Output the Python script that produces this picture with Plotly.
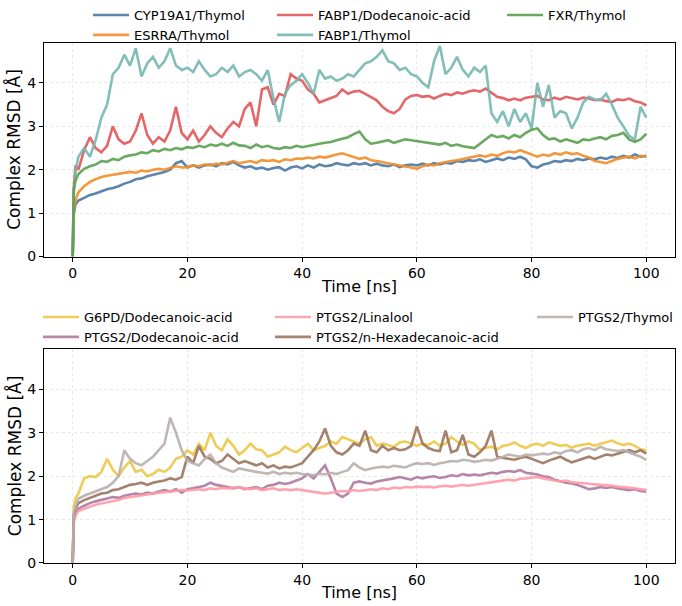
import plotly.graph_objects as go
from plotly.subplots import make_subplots

time_ns = [0, 0.2, 0.5] + list(range(1, 101))

top_names = ["CYP19A1/Thymol", "ESRRA/Thymol", "FABP1/Dodecanoic-acid", "FABP1/Thymol", "FXR/Thymol"]
bottom_names = ["G6PD/Dodecanoic-acid", "PTGS2/Dodecanoic-acid", "PTGS2/Linalool",
                "PTGS2/n-Hexadecanoic-acid", "PTGS2/Thymol"]

cyp19a1_thymol = [0, 1.0, 1.2,
    1.29, 1.35, 1.42, 1.45, 1.5, 1.55, 1.58, 1.62, 1.68, 1.72,
    1.78, 1.8, 1.85, 1.88, 1.92, 1.95, 2.0, 2.15, 2.2, 2.05,
    2.1, 2.05, 2.1, 2.12, 2.08, 2.15, 2.12, 2.18, 2.1, 2.05,
    2.08, 2.02, 2.05, 2.0, 2.04, 2.06, 1.98, 2.05, 2.08, 2.03,
    2.1, 2.05, 2.12, 2.08, 2.1, 2.15, 2.12, 2.1, 2.15, 2.12,
    2.15, 2.1, 2.14, 2.1, 2.08, 2.12, 2.06, 2.1, 2.12, 2.1,
    2.14, 2.1, 2.15, 2.12, 2.16, 2.14, 2.2, 2.18, 2.22, 2.2,
    2.24, 2.18, 2.22, 2.26, 2.22, 2.28, 2.25, 2.3, 2.24, 2.08,
    2.05, 2.12, 2.15, 2.2, 2.18, 2.22, 2.2, 2.25, 2.22, 2.26,
    2.24, 2.28, 2.25, 2.3, 2.27, 2.32, 2.28, 2.35, 2.3, 2.32]

esrra_thymol = [0, 1.05, 1.3,
    1.48, 1.62, 1.72, 1.78, 1.83, 1.86, 1.88, 1.9, 1.92, 1.95,
    1.93, 1.98, 1.96, 2.0, 2.02, 2.0, 2.04, 2.08, 2.05, 2.06,
    2.1, 2.08, 2.12, 2.1, 2.14, 2.12, 2.16, 2.2, 2.15, 2.18,
    2.2, 2.16, 2.22, 2.2, 2.22, 2.18, 2.24, 2.22, 2.26, 2.25,
    2.28, 2.26, 2.3, 2.28, 2.32, 2.35, 2.38, 2.34, 2.3, 2.25,
    2.28, 2.22, 2.2, 2.18, 2.15, 2.12, 2.1, 2.08, 2.05, 2.02,
    2.08, 2.12, 2.1, 2.15, 2.18, 2.2, 2.22, 2.25, 2.28, 2.3,
    2.33, 2.3, 2.35, 2.32, 2.38, 2.42, 2.4, 2.45, 2.4, 2.35,
    2.3, 2.35, 2.32, 2.38, 2.35, 2.4, 2.36, 2.38, 2.32, 2.28,
    2.2, 2.18, 2.15, 2.2, 2.25, 2.28, 2.3, 2.26, 2.32, 2.3]

fabp1_dodecanoic = [0, 1.6, 2.1,
    2.0, 2.45, 2.75, 2.5, 2.4, 2.55, 3.0, 2.7, 2.6, 2.65,
    2.9, 3.3, 2.8, 2.6, 2.75, 2.65, 2.9, 3.45, 2.85, 2.7,
    2.9, 2.65, 2.8, 3.0, 2.85, 2.75, 2.95, 3.1, 3.0, 3.4,
    3.55, 3.0, 3.85, 3.9, 3.5, 3.75, 3.7, 4.2, 4.1, 4.05,
    3.85, 3.75, 3.55, 3.6, 3.65, 3.7, 3.85, 3.75, 3.8, 3.82,
    3.75, 3.68, 3.6, 3.45, 3.35, 3.3, 3.4, 3.62, 3.7, 3.72,
    3.68, 3.7, 3.64, 3.7, 3.75, 3.72, 3.78, 3.75, 3.8, 3.83,
    3.8, 3.87, 3.78, 3.68, 3.65, 3.6, 3.64, 3.6, 3.66, 3.68,
    3.7, 3.62, 3.6, 3.66, 3.62, 3.68, 3.65, 3.62, 3.66, 3.64,
    3.6, 3.62, 3.58, 3.56, 3.62, 3.6, 3.64, 3.58, 3.55, 3.48]

fabp1_thymol = [0, 1.5, 1.98,
    2.3, 2.5, 2.3, 2.68, 3.2, 3.5, 4.2, 4.35, 4.65, 4.4,
    4.8, 4.15, 4.45, 4.6, 4.35, 4.5, 4.8, 4.4, 4.3, 4.35,
    4.25, 4.5, 4.3, 4.15, 4.2, 4.35, 4.25, 4.4, 4.15, 4.25,
    4.3, 4.2, 4.05, 4.3, 3.65, 3.1, 3.75, 3.95, 4.05, 4.2,
    4.0, 3.75, 4.3, 4.1, 4.15, 4.05, 4.1, 4.2, 4.15, 4.3,
    4.45, 4.5, 4.6, 4.75, 4.5, 4.45, 4.3, 4.35, 4.2, 4.15,
    4.0, 3.9, 4.5, 4.85, 4.2, 4.35, 4.6, 4.3, 4.15, 4.35,
    4.25, 4.4, 3.3, 3.1, 3.35, 3.0, 3.4, 3.1, 3.3, 2.95,
    4.0, 3.45, 3.95, 3.2, 3.35, 3.3, 2.95, 3.2, 3.55, 3.68,
    3.62, 3.6, 3.75, 3.5, 3.2, 3.0, 2.78, 2.7, 3.45, 3.2]

fxr_thymol = [0, 1.55, 1.75,
    1.9, 2.02, 2.08, 2.12, 2.2, 2.18, 2.25, 2.22, 2.3, 2.33,
    2.35, 2.4, 2.38, 2.45, 2.42, 2.48, 2.45, 2.5, 2.47, 2.52,
    2.5, 2.55, 2.52, 2.58, 2.55, 2.6, 2.55, 2.62, 2.56, 2.55,
    2.5, 2.58, 2.52, 2.55, 2.5, 2.48, 2.52, 2.5, 2.55, 2.52,
    2.55, 2.58, 2.6, 2.62, 2.64, 2.68, 2.72, 2.75, 2.82, 2.88,
    2.7, 2.6, 2.62, 2.65, 2.68, 2.62, 2.66, 2.7, 2.68, 2.66,
    2.65, 2.62, 2.6, 2.58, 2.62, 2.55, 2.58, 2.54, 2.52, 2.5,
    2.6, 2.7, 2.8, 2.75, 2.78, 2.72, 2.8, 2.75, 2.85, 2.92,
    2.95, 2.8, 2.7, 2.72, 2.65, 2.7, 2.66, 2.62, 2.7, 2.68,
    2.72, 2.75, 2.7, 2.78, 2.8, 2.85, 2.7, 2.64, 2.7, 2.83]

g6pd_dodecanoic = [0, 1.3, 1.5,
    1.6, 1.95, 2.0, 1.98, 2.1, 2.4, 2.15, 2.0, 2.2, 2.35,
    2.1, 2.15, 2.0, 2.05, 2.15, 2.1, 2.2, 2.4, 2.45, 2.6,
    2.5, 2.75, 2.6, 3.0, 2.7, 2.6, 2.85, 2.7, 2.5, 2.6,
    2.75, 2.62, 2.6, 2.45, 2.5, 2.55, 2.68, 2.6, 2.55, 2.65,
    2.75, 2.6, 2.65, 2.7, 2.8, 2.75, 2.9, 2.85, 2.8, 2.75,
    2.85, 2.9, 2.7, 2.75, 2.72, 2.68, 2.78, 2.8, 2.75, 2.7,
    2.75, 2.72, 2.8, 2.7, 2.75, 2.9, 2.8, 2.72, 2.8, 2.75,
    2.6, 2.65, 2.68, 2.62, 2.7, 2.72, 2.78, 2.7, 2.65, 2.72,
    2.75, 2.7, 2.78, 2.74, 2.7, 2.72, 2.66, 2.7, 2.72, 2.75,
    2.7, 2.75, 2.78, 2.82, 2.76, 2.72, 2.75, 2.7, 2.62, 2.6]

ptgs2_dodecanoic = [0, 1.0, 1.15,
    1.25, 1.32, 1.38, 1.42, 1.45, 1.48, 1.52, 1.5, 1.55, 1.58,
    1.6, 1.58, 1.62, 1.6, 1.65, 1.68, 1.65, 1.7, 1.62, 1.7,
    1.72, 1.75, 1.78, 1.85, 1.8, 1.78, 1.75, 1.72, 1.75, 1.7,
    1.72, 1.75, 1.7, 1.78, 1.8, 1.85, 1.82, 1.85, 1.9, 1.95,
    2.05, 1.95, 2.1, 2.25, 1.95, 1.6, 1.52, 1.6, 1.85, 1.88,
    1.85, 1.83, 1.88, 1.9, 1.92, 1.95, 1.98, 1.95, 1.92, 1.98,
    1.95, 1.98, 2.0, 1.96, 1.98, 2.02, 2.0, 2.05, 2.02, 2.04,
    2.02, 2.05, 2.08, 2.06, 2.1, 2.12, 2.1, 2.14, 2.08, 2.06,
    2.04, 2.0, 1.98, 1.92, 1.88, 1.85, 1.83, 1.8, 1.75, 1.7,
    1.72, 1.75, 1.73, 1.75, 1.72, 1.7, 1.68, 1.7, 1.66, 1.64]

ptgs2_linalool = [0, 0.95, 1.1,
    1.2, 1.25, 1.3, 1.34, 1.37, 1.4, 1.43, 1.45, 1.5, 1.52,
    1.55, 1.56, 1.58, 1.6, 1.62, 1.63, 1.65, 1.66, 1.68, 1.67,
    1.68, 1.7, 1.68, 1.72, 1.7, 1.73, 1.72, 1.74, 1.75, 1.72,
    1.7, 1.72, 1.68, 1.7, 1.72, 1.68, 1.7, 1.68, 1.7, 1.68,
    1.66, 1.65, 1.62, 1.6, 1.62, 1.64, 1.66, 1.65, 1.68, 1.66,
    1.68, 1.7, 1.68, 1.72, 1.7, 1.74, 1.72, 1.75, 1.74, 1.76,
    1.75, 1.76, 1.74, 1.77, 1.78, 1.76, 1.78, 1.8, 1.78, 1.8,
    1.82, 1.84, 1.86, 1.88, 1.9, 1.92, 1.9, 1.94, 1.95, 1.97,
    1.98, 1.95, 1.92, 1.9, 1.88, 1.9, 1.86, 1.85, 1.84, 1.83,
    1.82, 1.8, 1.8, 1.78, 1.76, 1.75, 1.74, 1.72, 1.7, 1.68]

ptgs2_hexadecanoic = [0, 1.1, 1.25,
    1.38, 1.45, 1.5, 1.55, 1.6, 1.62, 1.68, 1.7, 1.75, 1.8,
    1.82, 1.85, 1.8, 1.85, 1.88, 1.9, 1.95, 1.92, 1.98, 2.45,
    2.3, 2.7, 2.45, 2.4, 2.3, 2.35, 2.5, 2.4, 2.3, 2.35,
    2.3, 2.25, 2.3, 2.2, 2.25, 2.18, 2.22, 2.2, 2.25, 2.3,
    2.45, 2.6, 2.8, 3.1, 2.7, 2.55, 2.5, 2.6, 2.75, 2.7,
    3.05, 2.6, 2.55, 2.7, 2.6, 2.65, 2.6, 2.62, 2.7, 3.15,
    2.75, 2.65, 2.6, 2.58, 3.05, 2.55, 2.6, 2.95, 2.5, 2.45,
    2.55, 2.7, 3.05, 2.45, 2.42, 2.4, 2.38, 2.42, 2.45, 2.4,
    2.35, 2.3, 2.36, 2.4, 2.45, 2.38, 2.32, 2.36, 2.4, 2.45,
    2.4, 2.45, 2.5, 2.48, 2.52, 2.55, 2.6, 2.55, 2.6, 2.52]

ptgs2_thymol = [0, 1.15, 1.3,
    1.48, 1.55, 1.6, 1.65, 1.7, 1.75, 1.85, 2.0, 2.6, 2.4,
    2.3, 2.25, 2.35, 2.45, 2.6, 2.75, 3.35, 3.0, 2.6, 2.35,
    2.3, 2.25, 2.4, 2.5, 2.3, 2.2, 2.15, 2.1, 2.18, 2.15,
    2.12, 2.1, 2.08, 2.06, 2.1, 2.05, 2.08, 2.06, 2.08, 2.05,
    2.04, 2.02, 2.06, 2.04, 2.08, 2.05, 2.1, 2.14, 2.3, 2.2,
    2.14, 2.18, 2.2, 2.22, 2.2, 2.24, 2.22, 2.2, 2.26, 2.3,
    2.28, 2.3, 2.26, 2.3, 2.32, 2.35, 2.34, 2.38, 2.36, 2.33,
    2.35, 2.38, 2.36, 2.4, 2.45, 2.5, 2.48, 2.45, 2.5, 2.48,
    2.5, 2.52, 2.5, 2.55, 2.52, 2.58, 2.6, 2.55, 2.62, 2.65,
    2.6, 2.68, 2.62, 2.6, 2.58, 2.6, 2.55, 2.5, 2.45, 2.37]

top_values = [cyp19a1_thymol, esrra_thymol, fabp1_dodecanoic, fabp1_thymol, fxr_thymol]
bottom_values = [g6pd_dodecanoic, ptgs2_dodecanoic, ptgs2_linalool, ptgs2_hexadecanoic, ptgs2_thymol]

top_colors = ["#4e79a7", "#f28e2b", "#e15759", "#76b7b2", "#59a14f"]
bottom_colors = ["#edc948", "#b07aa1", "#ff9da7", "#9c755f", "#bab0ac"]

# legend column assignment (column-major, 3 columns)
top_legends = ["legend", "legend", "legend2", "legend2", "legend3"]
bottom_legends = ["legend4", "legend4", "legend5", "legend5", "legend6"]

FONT = "DejaVu Sans"
W, H = 682, 606
ML, MR, MT, MB = 44, 7, 43, 43

fig = make_subplots(rows=2, cols=1, vertical_spacing=0.1788)

for name, vals, col, lg in zip(top_names, top_values, top_colors, top_legends):
    fig.add_trace(go.Scatter(x=time_ns, y=vals, mode="lines", name=name, legend=lg,
                             line=dict(color=col, width=2.6), opacity=0.9), row=1, col=1)
for name, vals, col, lg in zip(bottom_names, bottom_values, bottom_colors, bottom_legends):
    fig.add_trace(go.Scatter(x=time_ns, y=vals, mode="lines", name=name, legend=lg,
                             line=dict(color=col, width=2.6), opacity=0.9), row=2, col=1)

axis_common = dict(showline=True, mirror=True, linecolor="black", linewidth=1,
                   ticks="outside", ticklen=4, tickwidth=1, tickcolor="black",
                   showgrid=True, gridcolor="#e8e8e8", griddash="dot", gridwidth=0.8,
                   zeroline=False,
                   tickfont=dict(family=FONT, size=14, color="black"))

for r in (1, 2):
    fig.update_xaxes(range=[-5, 105], tickvals=[0, 20, 40, 60, 80, 100],
                     title=dict(text="Time [ns]", font=dict(family=FONT, size=16, color="black"), standoff=0),
                     row=r, col=1, **axis_common)
    fig.update_yaxes(range=[0, 4.92], tickvals=[0, 1, 2, 3, 4],
                     row=r, col=1, **axis_common)

# y-axis titles as rotated annotations centred on each plot area
plot_w = W - ML - MR
for dom in (fig.layout.yaxis.domain, fig.layout.yaxis2.domain):
    fig.add_annotation(text="Complex RMSD [Å]", textangle=-90, showarrow=False,
                       xref="paper", yref="paper", x=(14 - ML) / plot_w, y=(dom[0] + dom[1]) / 2,
                       xanchor="center", yanchor="middle",
                       font=dict(family=FONT, size=17, color="black"))

def leg(xpx, ypx):
    return dict(xref="container", yref="container", x=xpx / W, y=1 - ypx / H,
                xanchor="left", yanchor="top", orientation="v", bgcolor="rgba(0,0,0,0)",
                font=dict(family=FONT, size=13, color="black"), itemwidth=36, tracegroupgap=0)

fig.update_layout(
    width=W, height=H,
    margin=dict(l=ML, r=MR, t=MT, b=MB, autoexpand=False),
    plot_bgcolor="white", paper_bgcolor="white",
    font=dict(family=FONT, color="black"),
    legend=leg(88, -5), legend2=leg(272, -5), legend3=leg(502, -5),
    legend4=leg(38, 302), legend5=leg(270, 302), legend6=leg(532, 302),
)

fig.write_html("out.html")
